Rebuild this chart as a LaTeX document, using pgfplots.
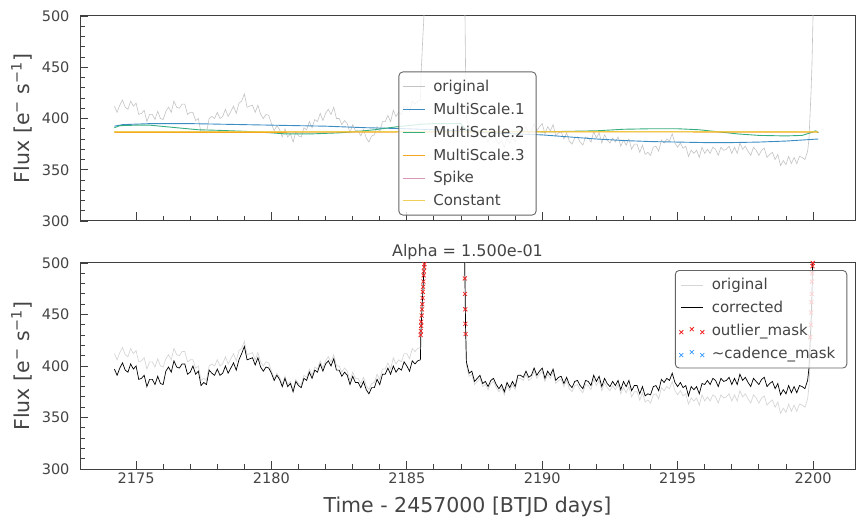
\documentclass[border=0pt]{standalone}
\usepackage{fontspec}
\setmainfont{DejaVu Sans}
\usepackage{pgfplots}
\pgfplotsset{compat=1.18}
\usepackage{pgfplotstable}
\definecolor{txt}{HTML}{444444}
\definecolor{axc}{HTML}{404040}
\definecolor{origtop}{HTML}{A9A9A9}
\definecolor{origbot}{HTML}{D6D6D6}
\definecolor{msone}{HTML}{3C8CC4}
\definecolor{mstwo}{HTML}{35AD7E}
\definecolor{msthree}{HTML}{F5A623}
\definecolor{consc}{HTML}{EEC83A}
\definecolor{spikec}{HTML}{D898BC}
\definecolor{outred}{HTML}{F02020}
\definecolor{cadblue}{HTML}{3399FF}

\pgfplotstableread{
t o c
2174.2 412 397
2174.3 406 391
2174.4 413 398
2174.5 418 403
2174.6 411 396
2174.7 409 394
2174.8 417 402
2174.9 412 397
2175.0 415 400
2175.1 404 387
2175.2 405 388
2175.3 408 391
2175.4 397 380
2175.5 404 387
2175.6 404 387
2175.7 399 382
2175.8 407 390
2175.9 400 383
2176.0 399 382
2176.1 407 395
2176.2 411 399
2176.3 406 394
2176.4 417 405
2176.5 411 399
2176.6 410 398
2176.7 414 402
2176.8 414 402
2176.9 404 392
2177.0 406 394
2177.1 406 400
2177.2 398 392
2177.3 400 395
2177.4 386 381
2177.5 388 384
2177.6 386 382
2177.7 400 396
2177.8 402 393
2177.9 400 391
2178.0 406 397
2178.1 400 391
2178.2 402 393
2178.3 409 400
2178.4 402 393
2178.5 407 398
2178.6 412 403
2178.7 405 396
2178.8 415 406
2178.9 417 412
2179.0 424 419
2179.1 411 406
2179.2 412 407
2179.3 413 408
2179.4 406 401
2179.5 413 408
2179.6 404 399
2179.7 400 395
2179.8 404 399
2179.9 403 398
2180.0 395 393
2180.1 388 386
2180.2 393 391
2180.3 389 387
2180.4 382 380
2180.5 390 388
2180.6 382 380
2180.7 385 383
2180.8 377 375
2180.9 387 385
2181.0 383 381
2181.1 382 379
2181.2 391 388
2181.3 389 386
2181.4 397 394
2181.5 391 388
2181.6 399 396
2181.7 397 394
2181.8 405 402
2181.9 398 395
2182.0 405 402
2182.1 409 405
2182.2 404 400
2182.3 411 407
2182.4 400 396
2182.5 400 396
2182.6 394 390
2182.7 398 394
2182.8 395 391
2182.9 386 382
2183.0 394 390
2183.1 388 384
2183.2 388 384
2183.3 383 379
2183.4 389 385
2183.5 381 377
2183.6 377 373
2183.7 383 379
2183.8 384 379
2183.9 392 387
2184.0 387 382
2184.1 397 392
2184.2 397 392
2184.3 403 398
2184.4 397 392
2184.5 408 400
2184.6 402 394
2184.7 406 398
2184.8 404 396
2184.9 412 404
2185.0 412 400
2185.1 407 395
2185.2 417 405
2185.3 414 402
2185.4 417 405
2185.5 418 406
2185.52 440 432
2185.54 452 444
2185.56 462 455
2185.58 474 467
2185.60 484 477
2185.62 494 488
2185.64 505 496
2185.66 530 508
2185.70 650 600
2186.00 950 900
2186.80 950 900
2187.10 650 600
2187.14 520 490
2187.15 495 478
2187.16 468 455
2187.17 445 436
2187.19 420 414
2187.2 401 404
2187.3 390 393
2187.4 392 395
2187.5 382 385
2187.6 385 388
2187.7 388 391
2187.8 380 383
2187.9 382 385
2188.0 377 380
2188.1 383 386
2188.2 385 388
2188.3 379 382
2188.4 375 378
2188.5 379 382
2188.6 372 375
2188.7 381 384
2188.8 376 379
2188.9 382 385
2189.0 377 380
2189.1 388 391
2189.2 388 391
2189.3 386 389
2189.4 392 395
2189.5 386 389
2189.6 388 391
2189.7 395 398
2189.8 388 391
2189.9 392 395
2190.0 395 398
2190.1 385 388
2190.2 392 395
2190.3 388 391
2190.4 394 397
2190.5 383 386
2190.6 386 389
2190.7 387 390
2190.8 380 383
2190.9 386 389
2191.0 378 382
2191.1 375 379
2191.2 381 385
2191.3 382 386
2191.4 377 381
2191.5 374 378
2191.6 382 386
2191.7 381 385
2191.8 377 381
2191.9 387 391
2192.0 381 385
2192.1 386 390
2192.2 376 380
2192.3 384 388
2192.4 379 383
2192.5 376 380
2192.6 381 385
2192.7 377 381
2192.8 382 386
2192.9 373 377
2193.0 379 385
2193.1 374 380
2193.2 380 386
2193.3 370 376
2193.4 375 381
2193.5 375 381
2193.6 367 373
2193.7 374 380
2193.8 365 371
2193.9 367 373
2194.0 364 372
2194.1 372 380
2194.2 373 381
2194.3 368 376
2194.4 379 387
2194.5 376 384
2194.6 380 388
2194.7 378 386
2194.8 385 393
2194.9 376 384
2195.0 372 380
2195.1 376 384
2195.2 371 379
2195.3 373 381
2195.4 363 371
2195.5 369 380
2195.6 366 377
2195.7 369 380
2195.8 362 373
2195.9 372 383
2196.0 366 382
2196.1 370 386
2196.2 366 382
2196.3 372 388
2196.4 370 386
2196.5 364 380
2196.6 372 388
2196.7 369 385
2196.8 370 386
2196.9 373 389
2197.0 366 382
2197.1 372 388
2197.2 366 382
2197.3 376 392
2197.4 370 386
2197.5 373 389
2197.6 368 384
2197.7 364 380
2197.8 372 388
2197.9 369 385
2198.0 364 382
2198.1 369 387
2198.2 371 389
2198.3 362 380
2198.4 365 383
2198.5 367 385
2198.6 360 378
2198.7 365 383
2198.8 354 372
2198.9 359 377
2199.0 355 373
2199.1 363 381
2199.2 356 374
2199.3 362 380
2199.4 356 374
2199.5 363 381
2199.6 362 380
2199.7 360 378
2199.8 368 386
2199.85 380 398
2199.90 410 428
2199.93 428 446
2199.96 452 470
2199.98 476 494
2200.00 500 516
2200.05 700 720
}\lc

\pgfplotsset{
  lkstyle/.style={
    scale only axis, width=775pt,
    xmin=2172.93, xmax=2201.55, ymin=300, ymax=500,
    xtick={2175,2180,...,2200}, ytick={300,350,...,500},
    minor x tick num=4, minor y tick num=4,
    tick align=inside, tick pos=left,
    major tick length=8.5pt, minor tick length=5pt,
    axis line style={draw=axc, line width=1pt},
    every tick/.style={draw=axc, line width=0.9pt},
    tick label style={font=\fontsize{14.5}{17}\selectfont, text=txt},
    label style={font=\fontsize{20.5}{24}\selectfont, text=txt},
    yticklabel style={xshift=-7pt},
    ylabel style={xshift=0pt, yshift=3pt},
    /pgf/number format/1000 sep={},
    /pgf/number format/assume math mode=true,
    ylabel={Flux [e\textsuperscript{−} s\textsuperscript{−1}]},
    legend cell align=left,
    legend style={draw=axc!80, line width=0.9pt, rounded corners=4pt, fill=white,
      fill opacity=0.8, draw opacity=1, text opacity=1,
      font=\fontsize{15}{18}\selectfont, text=txt,
      inner xsep=4pt, inner ysep=3pt,
      nodes={inner ysep=5pt, inner xsep=7.5pt}},
    legend image code/.code={\draw[##1] (0pt,0pt) -- (22pt,0pt);},
  },
  markleg/.style={legend image code/.code={\draw[##1, only marks] plot coordinates {(0pt,-1.5pt) (10.5pt,1.5pt) (21pt,-1.5pt)};}},
}

\begin{document}
\begin{tikzpicture}
\path[use as bounding box] (0pt,0pt) rectangle (864pt,525pt);

\begin{axis}[lkstyle, at={(80pt,304pt)}, anchor=south west, height=205pt,
  xticklabels={},
  legend style={at={(0.5,0.378)}, anchor=center}]
\addplot[color=origtop, draw=origtop!70, line width=0.6pt] table[x=t, y=o]{\lc};
\addlegendentry{original}
\addplot[color=msone, draw=msone, line width=0.9pt] coordinates {
(2174.2,392.5) (2174.5,394) (2175.5,395) (2177,395) (2178,394.5) (2180,393.5)
(2182,392.5) (2183.5,391) (2185,390) (2186,389) (2187,388) (2188,386) (2189,385)
(2190,384) (2191,382) (2192,380) (2193,378.5) (2194,377.5) (2195,377) (2196,376.5)
(2197,376.5) (2198,377) (2199,378) (2200.2,380)};
\addlegendentry{MultiScale.1}
\addplot[color=mstwo, draw=mstwo, line width=0.9pt] coordinates {
(2174.2,391) (2174.4,393) (2175,393.5) (2175.5,393.5) (2176.5,391) (2177.3,389)
(2178,388.5) (2179,387.5) (2180,386) (2180.5,385) (2181.5,385) (2182.5,386)
(2183.2,387.5) (2183.8,389) (2184.5,391.5) (2185.2,393.5) (2185.6,394.5) (2186,395)
(2187,395) (2187.2,388) (2188,387.5) (2189,387.5) (2190,387) (2191,387.5) (2192,388)
(2193,389.5) (2194,390) (2195,390) (2195.8,389) (2196.5,387) (2197.2,385) (2198,383.5)
(2199,383) (2199.6,383.5) (2199.9,386) (2200.1,388) (2200.2,386)};
\addlegendentry{MultiScale.2}
\addplot[color=msthree, draw=msthree, line width=0.9pt] coordinates {
(2174.2,386.5) (2180,386.5) (2185,386.8) (2190,387) (2195,386.8) (2200.2,386.6)};
\addlegendentry{MultiScale.3}
\addlegendimage{color=spikec, draw=spikec, line width=0.9pt}
\addlegendentry{Spike}
\addplot[color=consc, draw=consc, line width=0.9pt, opacity=0.85] coordinates {
(2174.2,387) (2200.2,387)};
\addlegendentry{Constant}
\end{axis}

\begin{axis}[lkstyle, at={(80pt,56pt)}, anchor=south west, height=206pt,
  xlabel={Time - 2457000 [BTJD days]},
  xlabel style={yshift=-7pt},
  title={Alpha = 1.500e-01},
  title style={font=\fontsize{16}{19}\selectfont, text=txt, yshift=-6pt},
  legend style={at={(0.99,0.966)}, anchor=north east}]
\addplot[color=origbot, draw=origbot, line width=0.7pt] table[x=t, y=o]{\lc};
\addlegendentry{original}
\addplot[color=black, draw=black, line width=0.7pt] table[x=t, y=c]{\lc};
\addlegendentry{corrected}
\addplot[only marks, mark=x, mark size=2.8pt, color=outred, draw=outred, mark options={line width=0.75pt}, markleg]
coordinates {
(2185.51,430) (2185.52,434) (2185.53,439) (2185.53,443) (2185.55,449) (2185.56,455)
(2185.57,460) (2185.58,466) (2185.59,472) (2185.60,477) (2185.61,482) (2185.62,488)
(2185.63,492) (2185.64,496) (2185.65,499)
(2187.14,485) (2187.15,470) (2187.16,455) (2187.16,441) (2187.17,431)
(2199.90,428) (2199.92,440) (2199.93,452) (2199.94,462) (2199.95,470) (2199.96,482)
(2199.97,490) (2199.98,497) (2199.99,500)};
\addlegendentry{outlier\_mask}
\addlegendimage{only marks, mark=x, mark size=2.8pt, color=cadblue, draw=cadblue, mark options={line width=0.75pt}, markleg}
\addlegendentry{\textasciitilde cadence\_mask}
\end{axis}
\end{tikzpicture}
\end{document}
